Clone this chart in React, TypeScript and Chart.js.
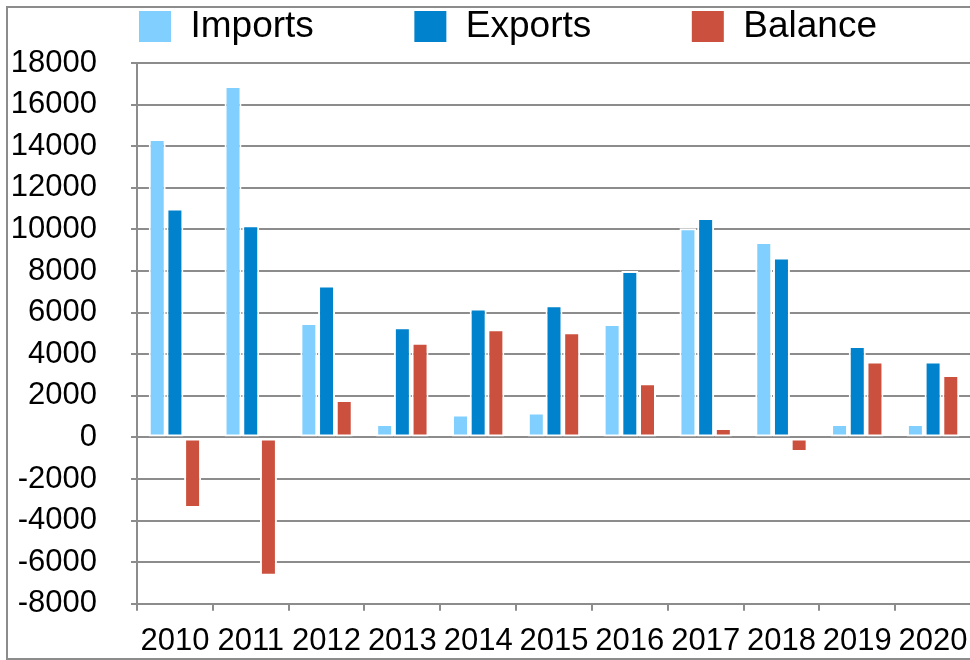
import React, { useEffect, useRef } from "react";
import { Chart, registerables } from "chart.js";

Chart.register(...registerables);

const years = ["2010", "2011", "2012", "2013", "2014", "2015", "2016", "2017", "2018", "2019", "2020"];
const importsData = [14350, 16900, 5500, 650, 1100, 1200, 5450, 10050, 9400, 650, 650];
const exportsData = [11000, 10200, 7300, 5300, 6200, 6350, 8000, 10550, 8650, 4400, 3650];
const balanceData = [-3400, -6650, 1800, 4550, 5200, 5050, 2600, 450, -700, 3650, 3000];
const seriesNames = ["Imports", "Exports", "Balance"];
const seriesColors = ["#80CFFF", "#0082CC", "#CB503E"];
const yMin = -8000;
const yMax = 18000;
const yStep = 2000;

const FONT = "'Liberation Sans', Arial, Helvetica, sans-serif";
const GRID = "#8c8c8c";
const SPACER = "         ";

export default function App() {
  const ref = useRef<HTMLCanvasElement>(null);

  useEffect(() => {
    document.body.style.overflow = "hidden";
    const canvas = ref.current;
    if (!canvas) return;
    const values = [importsData, exportsData, balanceData];
    const chart = new Chart(canvas, {
      type: "bar",
      data: {
        labels: years,
        datasets: seriesNames.map((name, i) => ({
          label: name,
          data: values[i],
          backgroundColor: seriesColors[i],
          borderColor: "#ffffff",
          borderWidth: 2,
          borderSkipped: false,
          categoryPercentage: 0.7,
          barPercentage: 0.96,
        })),
      },
      options: {
        responsive: false,
        animation: false,
        devicePixelRatio: 1,
        layout: { padding: { left: 3, right: 0, top: 0, bottom: 0 } },
        font: { family: FONT },
        plugins: {
          tooltip: { enabled: false },
          legend: {
            position: "top",
            labels: {
              boxWidth: 34,
              boxHeight: 33,
              padding: 7,
              color: "#000",
              font: { family: FONT, size: 37 },
              generateLabels: (c: any) => {
                const items = Chart.defaults.plugins.legend.labels.generateLabels(c);
                return items.map((it: any, i: number) => ({
                  ...it,
                  text: i < items.length - 1 ? it.text + SPACER : it.text,
                }));
              },
            },
          },
        },
        scales: {
          x: {
            type: "category",
            position: "bottom",
            grid: {
              display: true,
              drawOnChartArea: false,
              drawTicks: true,
              tickLength: 7,
              color: GRID,
              lineWidth: 2,
              offset: true,
            },
            border: { display: true, color: GRID, width: 2 },
            ticks: {
              color: "#000",
              padding: 12,
              maxRotation: 0,
              autoSkip: false,
              font: { family: FONT, size: 31 },
            },
          },
          y: {
            type: "linear",
            position: "left",
            min: yMin,
            max: yMax,
            grid: { color: GRID, lineWidth: 2, tickLength: 6, drawTicks: true },
            border: { display: true, color: GRID, width: 2 },
            ticks: {
              stepSize: yStep,
              color: "#000",
              padding: 34,
              font: { family: FONT, size: 31 },
              callback: (v: any) => String(v),
            },
            afterFit: (s: any) => {
              s.width = 126;
            },
          },
          xT: {
            type: "linear",
            position: "top",
            display: true,
            grid: { display: false },
            border: { display: false },
            ticks: { display: false },
            afterFit: (s: any) => {
              s.height = 8;
            },
          },
          yR: {
            type: "linear",
            position: "right",
            display: true,
            grid: { display: false },
            border: { display: false },
            ticks: { display: false },
            afterFit: (s: any) => {
              s.width = 33;
            },
          },
        },
      } as any,
    });
    return () => chart.destroy();
  }, []);

  return (
    <>
      <div
        style={{
          position: "fixed",
          left: 6,
          top: 6,
          width: 1000,
          height: 650,
          border: "2px solid #8c8c8c",
          background: "#fff",
        }}
      />
      <canvas
        ref={ref}
        width={996}
        height={671}
        style={{ position: "fixed", left: 8, top: 1, width: 996, height: 671 }}
      />
    </>
  );
}
